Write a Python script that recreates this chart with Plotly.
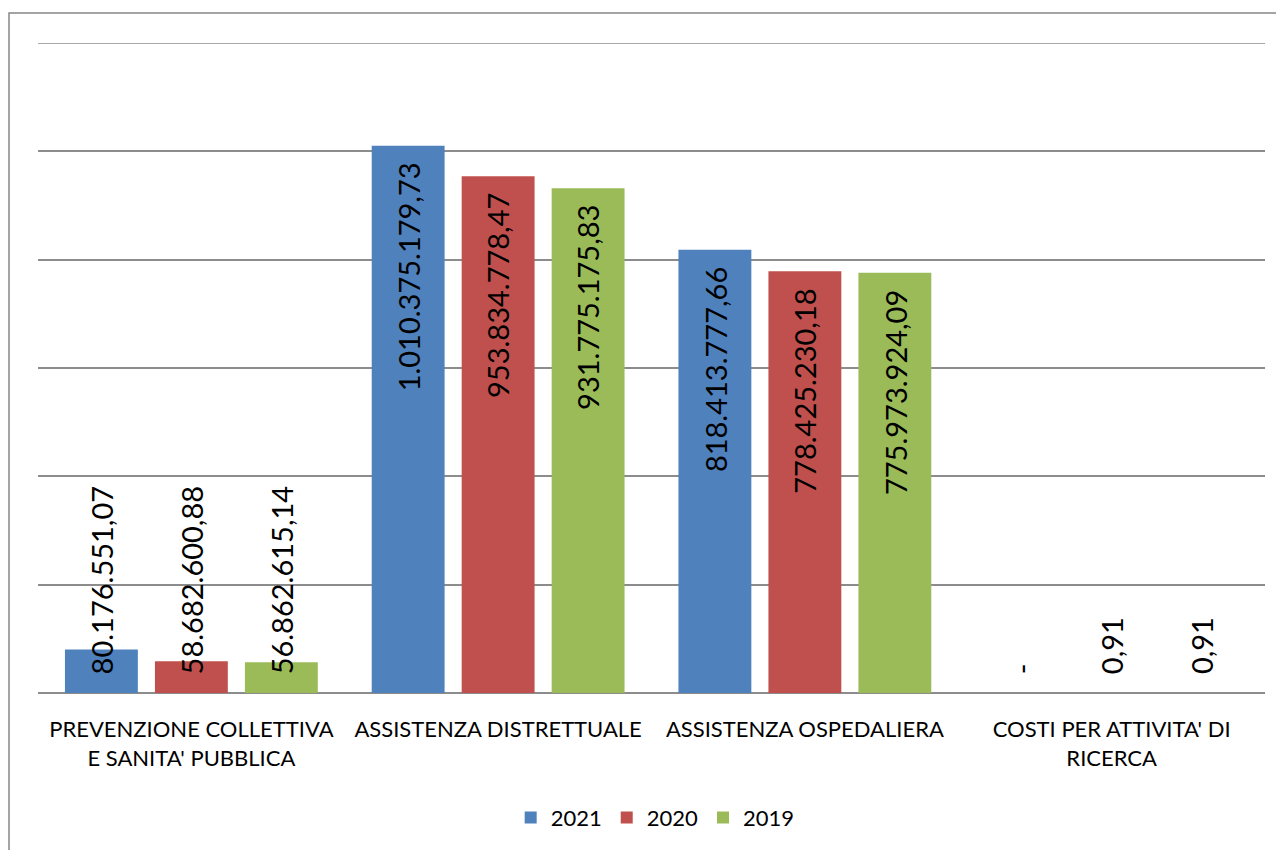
import plotly.graph_objects as go

categories = ["PREVENZIONE COLLETTIVA<br>E SANITA' PUBBLICA", "ASSISTENZA DISTRETTUALE",
              "ASSISTENZA OSPEDALIERA", "COSTI PER ATTIVITA' DI<br>RICERCA"]
series_names = ["2021", "2020", "2019"]
values_2021 = [80176551.07, 1010375179.73, 818413777.66, 0.0]
values_2020 = [58682600.88, 953834778.47, 778425230.18, 0.91]
values_2019 = [56862615.14, 931775175.83, 775973924.09, 0.91]
colors = ["#4F81BD", "#C0504D", "#9BBB59"]
y_max = 1.2e9
y_step = 2e8

all_values = [values_2021, values_2020, values_2019]

def fmt_it(v):
    if v == 0:
        return "-"
    s = f"{v:,.2f}"
    return s.replace(",", "X").replace(".", ",").replace("X", ".")

FONT = "Lato"
GRID = "#8C8C8C"
bargap = 0.12
fig = go.Figure()
xs = list(range(len(categories)))
for name, vals, col in zip(series_names, all_values, colors):
    fig.add_trace(go.Bar(x=xs, y=vals, name=name, marker=dict(color=col, line=dict(width=0)),
                         hoverinfo="skip"))

annotations = []
slot = (1 - bargap) / 3
plot_h = 650
for j, vals in enumerate(all_values):
    for i, v in enumerate(vals):
        txt = fmt_it(v)
        bar_px = v / y_max * plot_h
        x = i + (j - 1) * slot
        if bar_px > 260:
            annotations.append(dict(x=x, y=v, xref="x", yref="y", text=txt, textangle=-90,
                                    showarrow=False, yanchor="top", xanchor="center", yshift=-15,
                                    font=dict(family=FONT, size=29, color="black")))
        else:
            annotations.append(dict(x=x, y=0, xref="x", yref="y", text=txt, textangle=-90,
                                    showarrow=False, yanchor="bottom", xanchor="center", yshift=17,
                                    font=dict(family=FONT, size=29, color="black")))

fig.update_layout(
    width=1284, height=850,
    margin=dict(l=30, r=27, t=35, b=165, autoexpand=False),
    paper_bgcolor="white", plot_bgcolor="white",
    barmode="group", bargap=bargap, bargroupgap=0.19,
    font=dict(family=FONT, size=22, color="black"),
    showlegend=True,
    legend=dict(orientation="h", x=0.503, xanchor="center", y=-0.192, yanchor="middle",
                font=dict(family=FONT, size=22, color="black"), itemwidth=30),
    annotations=annotations,
    shapes=[
        dict(type="rect", xref="paper", yref="paper", x0=-29 / 1227, x1=1.05,
             y0=-0.4, y1=(693 - 13) / 650, line=dict(color="#868686", width=1.5), layer="below"),
        dict(type="line", xref="paper", yref="y", x0=0, x1=1, y0=y_max, y1=y_max,
             line=dict(color=GRID, width=1.5), layer="below"),
    ],
)
fig.update_xaxes(tickvals=xs, ticktext=categories, range=[-0.5, 3.5], showgrid=False,
                 zeroline=False, showline=False, ticks="", ticklabelstandoff=21, automargin=False,
                 tickfont=dict(family=FONT, size=22, color="black"))
fig.update_yaxes(range=[0, y_max], dtick=y_step, showticklabels=False, showgrid=True,
                 gridcolor=GRID, gridwidth=1.5, zeroline=True, zerolinecolor=GRID,
                 zerolinewidth=1.5, showline=False, automargin=False)

fig.write_html("out.html")
